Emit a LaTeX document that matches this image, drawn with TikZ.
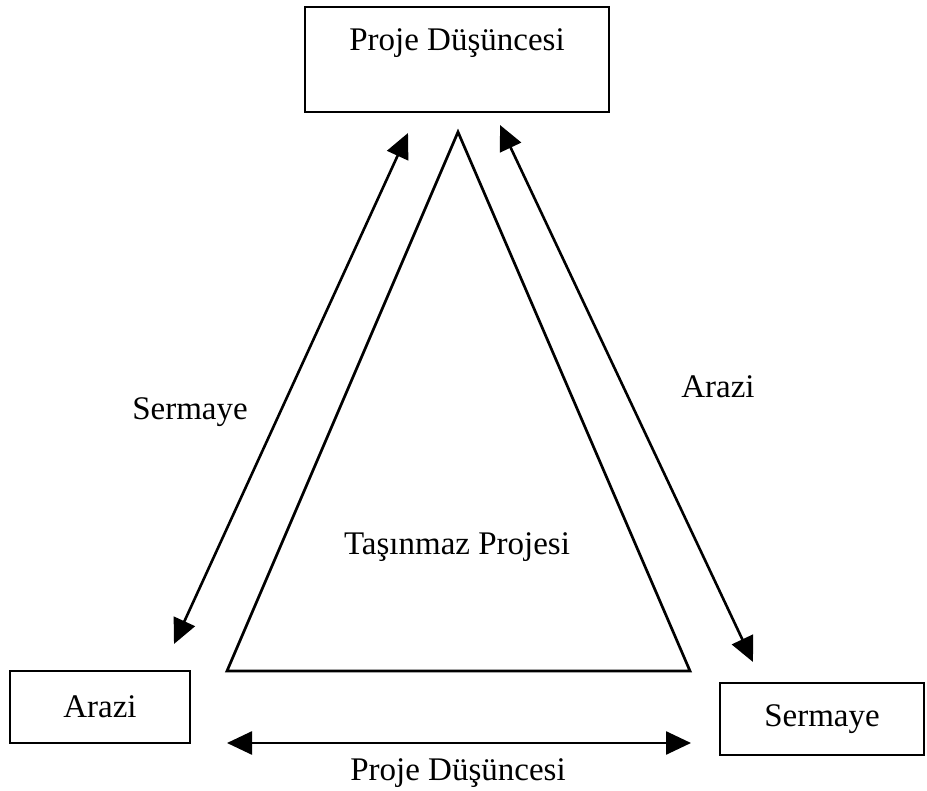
\documentclass[tikz,border=0pt]{standalone}
\usepackage{fontspec}
\setmainfont{Liberation Serif}
\usetikzlibrary{arrows.meta}
\begin{document}
\begin{tikzpicture}[x=1pt, y=-1pt, every node/.style={font=\fontsize{33}{38}\selectfont}]
    \tikzstyle{box_style}=[rectangle, draw, line width=2.7pt, inner sep=0pt]
    \tikzstyle{arrow_style}=[line width=2.6pt, {Triangle[length=25pt,width=23pt]}-{Triangle[length=25pt,width=23pt]}]
    \useasboundingbox (0,0) rectangle (927,791);

    % boxes
    \node at (457,59.5) [box_style, minimum width=304pt, text height=44pt, text depth=61pt] (idea) {Proje Düşüncesi};
    \node at (100,707) [box_style, minimum width=180pt, minimum height=72pt] (land) {Arazi};
    \node at (822,719) [box_style, minimum width=204pt, minimum height=72pt] (capital) {Sermaye};

    % triangle
    \coordinate (apex) at (458,132);
    \coordinate (base_l) at (227,671);
    \coordinate (base_r) at (690,671);
    \draw[line width=2.7pt, line join=miter] (apex) -- (base_r) -- (base_l) -- cycle;
    \node at (457,547) (project) {Taşınmaz Projesi};

    % arrow ends
    \coordinate (left_top) at (408,133);
    \coordinate (left_bot) at (174,644);
    \coordinate (right_top) at (500,125);
    \coordinate (right_bot) at (753,662);
    \coordinate (bottom_l) at (227,743);
    \coordinate (bottom_r) at (691,743);

    % connect
    \draw[arrow_style] (left_top) -- (left_bot);
    \draw[arrow_style] (right_top) -- (right_bot);
    \draw[arrow_style] (bottom_l) -- (bottom_r);

    % labels
    \node at (190,412) (lbl_capital) {Sermaye};
    \node at (718,387) (lbl_land) {Arazi};
    \node at (458,773) (lbl_idea) {Proje Düşüncesi};
\end{tikzpicture}
\end{document}
